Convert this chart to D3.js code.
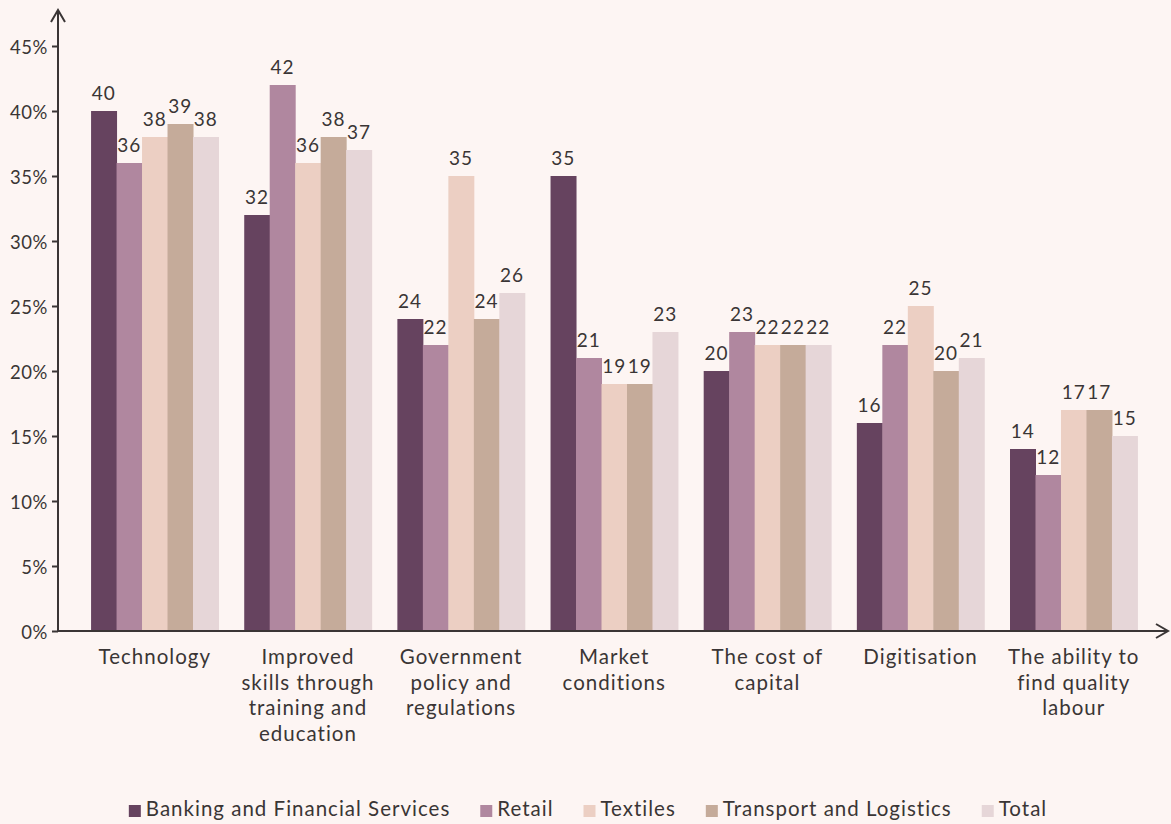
<!DOCTYPE html>
<html>
<head>
<meta charset="utf-8">
<script src="https://cdn.jsdelivr.net/npm/d3@7"></script>
<style>
  html, body { margin: 0; padding: 0; background: #fdf5f3; }
  svg { display: block; font-family: Lato, "Noto Sans", sans-serif; }
</style>
</head>
<body>
<svg id="chart" width="1171" height="824"></svg>
<script>
// Survey categories (multi-line labels) and the share of respondents per sector
const categories = [
  ["Technology"],
  ["Improved", "skills through", "training and", "education"],
  ["Government", "policy and", "regulations"],
  ["Market", "conditions"],
  ["The cost of", "capital"],
  ["Digitisation"],
  ["The ability to", "find quality", "labour"]
];
const seriesNames = ["Banking and Financial Services", "Retail", "Textiles", "Transport and Logistics", "Total"];
const banking   = [40, 32, 24, 35, 20, 16, 14];
const retail    = [36, 42, 22, 21, 23, 22, 12];
const textiles  = [38, 36, 35, 19, 22, 25, 17];
const transport = [39, 38, 24, 19, 22, 20, 17];
const total     = [38, 37, 26, 23, 22, 21, 15];
const yTicks = [0, 5, 10, 15, 20, 25, 30, 35, 40, 45];
const colors = ["#66435f", "#b0879f", "#eccfc3", "#c5ab9a", "#e6d6d8"];

const series = [banking, retail, textiles, transport, total];
const svg = d3.select("#chart");
const ink = "#3a3535";

const x0 = d3.scaleBand()
  .domain(d3.range(categories.length))
  .range([78.2, 1150.3])
  .paddingInner(0.168)
  .paddingOuter(0.084);
const x1 = d3.scaleBand()
  .domain(d3.range(seriesNames.length))
  .range([0, x0.bandwidth()]);
const y = d3.scaleLinear().domain([0, 45]).range([631, 46]);

// Bars
const groups = svg.append("g").selectAll("g")
  .data(categories.map((c, i) => i))
  .join("g")
  .attr("transform", i => `translate(${x0(i)},0)`);

groups.selectAll("rect")
  .data(i => series.map((s, k) => ({ k, v: s[i] })))
  .join("rect")
  .attr("x", d => x1(d.k))
  .attr("width", x1.bandwidth() + 0.5)
  .attr("y", d => y(d.v))
  .attr("height", d => y(0) - y(d.v))
  .attr("fill", d => colors[d.k]);

// Value labels
groups.selectAll("text")
  .data(i => series.map((s, k) => ({ k, v: s[i] })))
  .join("text")
  .attr("x", d => x1(d.k) + x1.bandwidth() / 2)
  .attr("y", d => y(d.v) - 11)
  .attr("text-anchor", "middle")
  .attr("font-size", 19)
  .attr("letter-spacing", 1)
  .attr("fill", ink)
  .text(d => d.v);

// Y axis
const yAxis = d3.axisLeft(y)
  .tickValues(yTicks)
  .tickFormat(d => d + "%")
  .tickSize(6)
  .tickPadding(4);
const gy = svg.append("g").attr("transform", "translate(58,0)").call(yAxis);
gy.select(".domain").remove();
gy.selectAll(".tick line").attr("stroke", ink).attr("stroke-width", 2);
gy.selectAll(".tick text")
  .attr("font-size", 18.5)
  .attr("letter-spacing", 0.6)
  .attr("fill", ink)
  .attr("font-family", "Lato, 'Noto Sans', sans-serif")
  .attr("dy", "0.4em");

// Axis lines with open arrow heads
const axisG = svg.append("g").attr("stroke", ink).attr("stroke-width", 2).attr("fill", "none");
axisG.append("line").attr("x1", 58).attr("x2", 58).attr("y1", y(0) + 1).attr("y2", 10);
axisG.append("path").attr("d", "M51,22 L58,10 L65,22");
axisG.append("line").attr("x1", 57).attr("x2", 1168).attr("y1", y(0)).attr("y2", y(0));
axisG.append("path").attr("d", "M1156,624 L1168,631 L1156,638");

// Category labels
const catG = svg.append("g");
categories.forEach((lines, i) => {
  const t = catG.append("text")
    .attr("x", x0(i) + x0.bandwidth() / 2)
    .attr("y", 664)
    .attr("text-anchor", "middle")
    .attr("font-size", 20.5)
    .attr("letter-spacing", 1)
    .attr("fill", ink);
  lines.forEach((ln, j) => {
    t.append("tspan")
      .attr("x", x0(i) + x0.bandwidth() / 2)
      .attr("dy", j === 0 ? 0 : 25.5)
      .text(ln);
  });
});

// Legend
const legend = svg.append("g");
const items = legend.selectAll("g").data(seriesNames).join("g");
items.append("rect")
  .attr("width", 12).attr("height", 12)
  .attr("y", -11)
  .attr("fill", (d, i) => colors[i]);
items.append("text")
  .attr("x", 17)
  .attr("font-size", 20.5)
  .attr("letter-spacing", 1)
  .attr("fill", ink)
  .text(d => d);
let cx = 0;
const gap = 30;
items.each(function () {
  const w = this.getBBox().width;
  d3.select(this).attr("data-x", cx);
  cx += w + gap;
});
const totalW = cx - gap;
const startX = 588 - totalW / 2;
items.attr("transform", function () {
  return `translate(${startX + +d3.select(this).attr("data-x")},816)`;
});
</script>
</body>
</html>
